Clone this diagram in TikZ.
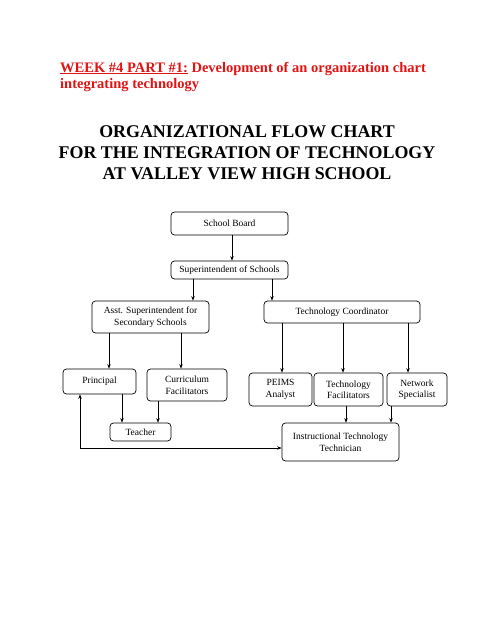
\documentclass[tikz,border=0pt]{standalone}
\usepackage{fontspec}
\setmainfont{Liberation Serif}
\usetikzlibrary{arrows.meta}
\definecolor{hdred}{RGB}{225,20,20}
\tikzset{
  box/.style={draw, rounded corners=3.5pt, line width=0.7pt, inner sep=1pt, align=center, font=\fontsize{9.5}{11.5}\selectfont},
  arr/.style={line width=0.7pt, -{Stealth[length=4.5pt,width=3.5pt]}},
  darr/.style={line width=0.7pt, {Stealth[length=4.5pt,width=3.5pt]}-{Stealth[length=4.5pt,width=3.5pt]}},
  ttl/.style={font=\fontsize{17.9}{21}\selectfont\bfseries, inner sep=0pt},
  hdr/.style={font=\fontsize{14.5}{16}\selectfont\bfseries, text=hdred, inner sep=0pt, anchor=base west}
}
\begin{document}
\begin{tikzpicture}[x=1pt,y=-1pt]
\useasboundingbox (0,0) rectangle (495,640);
% header
\node[hdr] (h1) at (60,72) {\underline{WEEK \#4 PART \#1:} Development of an organization chart};
\node[hdr] (h2) at (60,88) {integrating technology};
% title
\node[ttl, anchor=base] (t1) at (247,137) {ORGANIZATIONAL FLOW CHART};
\node[ttl, anchor=base] (t2) at (247,158) {FOR THE INTEGRATION OF TECHNOLOGY};
\node[ttl, anchor=base] (t3) at (247,179) {AT VALLEY VIEW HIGH SCHOOL};
% boxes
\node[box, minimum width=117pt, minimum height=23pt] (sb) at (229.5,223.5) {School Board};
\node[box, minimum width=117pt, minimum height=18pt] (sup) at (229.5,270) {Superintendent of Schools};
\node[box, minimum width=117pt, minimum height=32pt] (asst) at (150.5,317) {Asst. Superintendent for\\Secondary Schools};
\node[box, minimum width=156pt, minimum height=22pt] (tc) at (342,312) {Technology Coordinator};
\node[box, minimum width=73pt, minimum height=25pt] (prin) at (99.5,381.5) {Principal};
\node[box, minimum width=80pt, minimum height=32pt] (curr) at (187,385) {Curriculum\\Facilitators};
\node[box, minimum width=63pt, minimum height=33pt] (peims) at (280.5,389.5) {PEIMS\\Analyst};
\node[box, minimum width=69pt, minimum height=33pt] (tf) at (348.5,389.5) {Technology\\Facilitators};
\node[box, minimum width=60pt, minimum height=33pt] (ns) at (417,389.5) {Network\\Specialist};
\node[box, minimum width=61pt, minimum height=18pt] (teach) at (140.5,432) {Teacher};
\node[box, minimum width=117pt, minimum height=38pt] (itt) at (340.5,442) {Instructional Technology\\Technician};
% connectors
\draw[arr] (sb.south -| 232,0) -- (sup.north -| 232,0);
\draw[arr] (sup.south -| 193,0) -- (asst.north -| 193,0);
\draw[arr] (sup.south -| 272,0) -- (tc.north -| 272,0);
\draw[arr] (asst.south -| 109,0) -- (prin.north -| 109,0);
\draw[arr] (asst.south -| 181,0) -- (curr.north -| 181,0);
\draw[arr] (tc.south -| 282,0) -- (peims.north -| 282,0);
\draw[arr] (tc.south -| 343,0) -- (tf.north -| 343,0);
\draw[arr] (tc.south -| 408,0) -- (ns.north -| 408,0);
\draw[arr] (prin.south -| 122,0) -- (teach.north -| 122,0);
\draw[arr] (curr.south -| 158,0) -- (teach.north -| 158,0);
\draw[arr] (tf.south -| 346,0) -- (itt.north -| 346,0);
\draw[arr] (ns.south -| 391,0) -- (itt.north -| 391,0);
\draw[darr] (prin.south -| 80,0) -- (80,448) -- (itt.west |- 0,448);
\end{tikzpicture}
\end{document}
